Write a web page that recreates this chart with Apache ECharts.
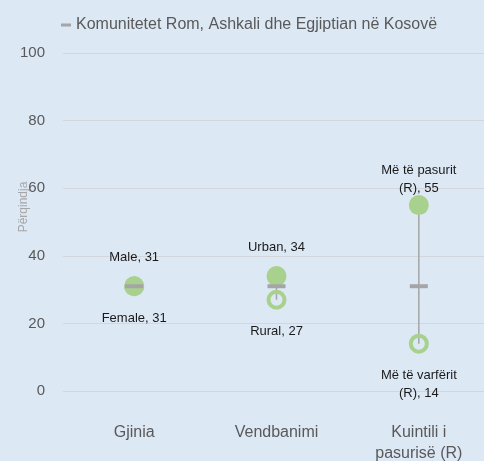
<!DOCTYPE html>
<html>
<head>
<meta charset="utf-8">
<script src="https://cdn.jsdelivr.net/npm/echarts@6/dist/echarts.min.js"></script>
<style>
  html, body { margin: 0; padding: 0; background: #dde8f5; }
  #chart-container { width: 484px; height: 461px; }
</style>
</head>
<body>
<div id="chart-container"></div>
<script>
var dom = document.getElementById("chart-container");
var myChart = echarts.init(dom, null, { renderer: "canvas" });

// data
const categories = ["Gjinia", "Vendbanimi", "Kuintili i\npasurisë (R)"];
const highNames = ["Male", "Urban", "Më të pasurit\n(R)"];
const highValues = [31, 34, 55];
const lowNames = ["Female", "Rural", "Më të varfërit\n(R)"];
const lowValues = [31, 27, 14];
const avgName = "Komunitetet Rom, Ashkali dhe Egjiptian në Kosovë";
const avgValues = [31, 31, 31];
const yTicks = [0, 20, 40, 60, 80, 100];

const green = "#a9d18e";
const grey = "#a5a5a5";
const font = "Liberation Sans";

var option = {
  backgroundColor: "#dde8f5",
  animation: false,
  textStyle: { fontFamily: font },
  legend: {
    data: [avgName],
    top: 12,
    left: 56,
    icon: "rect",
    itemWidth: 10,
    itemHeight: 3,
    itemGap: 4,
    textStyle: { fontSize: 16, color: "#595959", fontFamily: font },
  },
  grid: { left: 63, top: 53, width: 427, bottom: 70, outerBoundsMode: "none" },
  xAxis: {
    type: "category",
    data: categories,
    axisLine: { show: false },
    axisTick: { show: false },
    axisLabel: {
      fontSize: 16,
      color: "#595959",
      margin: 31,
      lineHeight: 21,
      interval: 0,
    },
  },
  yAxis: {
    type: "value",
    min: yTicks[0],
    max: yTicks[yTicks.length - 1],
    interval: 20,
    name: "Përqindja",
    nameLocation: "middle",
    nameGap: 33,
    nameMoveOverlap: false,
    nameTextStyle: { color: "#a6a6a6", fontSize: 12, padding: [0, 0, 0, 30] },
    axisLine: { show: false },
    axisTick: { show: false },
    axisLabel: { fontSize: 15, color: "#595959", margin: 18 },
    splitLine: { lineStyle: { color: "#d3d6da", width: 1 } },
  },
  series: [
    {
      name: "range",
      type: "custom",
      z: 1,
      data: categories.map((c, i) => [i, highValues[i], lowValues[i]]),
      renderItem: function (params, api) {
        const hi = api.coord([api.value(0), api.value(1)]);
        const lo = api.coord([api.value(0), api.value(2)]);
        return {
          type: "line",
          shape: { x1: hi[0], y1: hi[1], x2: lo[0], y2: lo[1] },
          style: { stroke: grey, lineWidth: 1.5 },
        };
      },
    },
    {
      name: "high",
      type: "scatter",
      z: 2,
      symbol: "circle",
      symbolSize: 20,
      itemStyle: { color: green, opacity: 1 },
      data: categories.map((c, i) => {
        const item = { value: [i, highValues[i]], name: highNames[i] };
        if (highNames[i].indexOf("\n") >= 0) item.label = { distance: -2 };
        return item;
      }),
      label: {
        show: true,
        position: "top",
        distance: 10,
        color: "#1a1a1a",
        fontSize: 13,
        lineHeight: 18,
        align: "center",
        formatter: (p) => p.name + ", " + p.value[1],
      },
    },
    {
      name: "low",
      type: "scatter",
      z: 2,
      symbol: "circle",
      symbolSize: 16,
      itemStyle: { color: "rgba(0,0,0,0)", borderColor: green, borderWidth: 4, opacity: 1 },
      data: categories.map((c, i) => ({ value: [i, lowValues[i]], name: lowNames[i] })),
      label: {
        show: true,
        position: "bottom",
        distance: 13,
        color: "#1a1a1a",
        fontSize: 13,
        lineHeight: 18,
        align: "center",
        formatter: (p) => p.name + ", " + p.value[1],
      },
    },
    {
      name: avgName,
      type: "scatter",
      z: 3,
      symbol: "rect",
      symbolSize: [18, 4],
      itemStyle: { color: grey, opacity: 1 },
      data: categories.map((c, i) => [i, avgValues[i]]),
    },
  ],
};

myChart.setOption(option);
window.addEventListener("resize", myChart.resize);
</script>
</body>
</html>
